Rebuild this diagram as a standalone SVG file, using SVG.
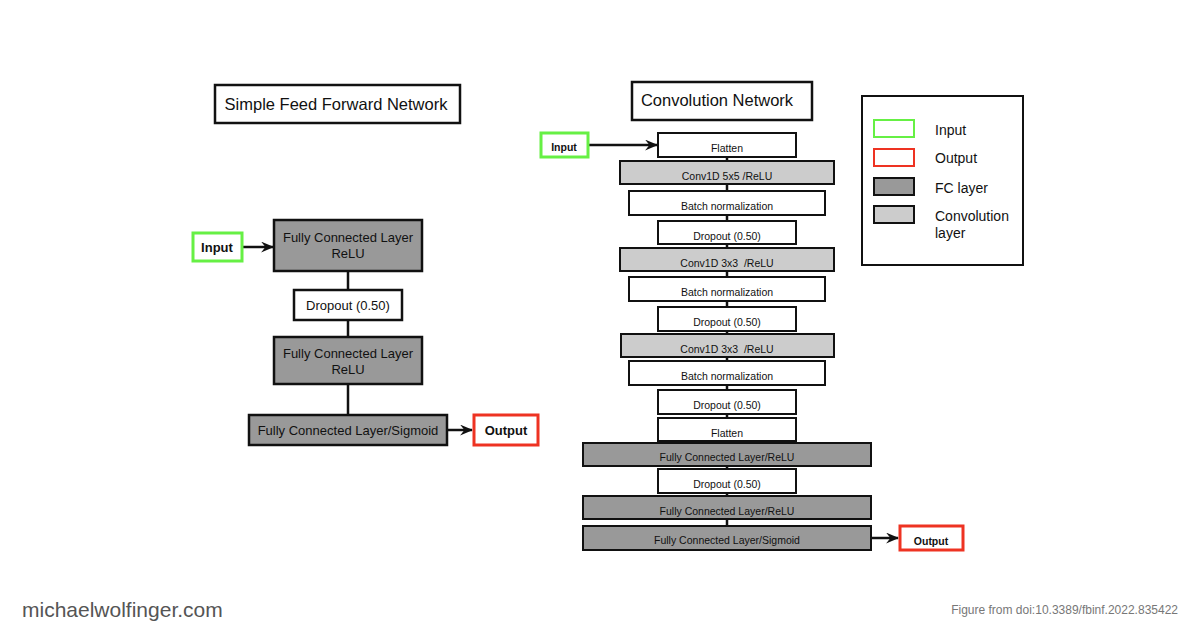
<svg xmlns="http://www.w3.org/2000/svg" width="1200" height="627" viewBox="0 0 1200 627">
<defs>
<style>
text{font-family:"Liberation Sans",Arial,sans-serif;fill:#111;text-anchor:middle}
.box{stroke:#111;stroke-width:2.5}
.rb{stroke:#111;stroke-width:2}
.w{fill:#fff}
.fc{fill:#999}
.cv{fill:#ccc}
.in{fill:#fff;stroke:#66f044;stroke-width:3}
.out{fill:#fff;stroke:#ee3322;stroke-width:3}
.l13{font-size:13px}
.r10{font-size:10.5px}
.b{font-weight:bold}
.lg{font-size:14px;text-anchor:start}
.con{stroke:#111;stroke-width:2.5;fill:none}
</style>
<marker id="ar" viewBox="0 0 12 10" refX="11" refY="5" markerWidth="13" markerHeight="11" markerUnits="userSpaceOnUse" orient="auto">
<path d="M0,0 L12,5 L0,10 L4,5 z" fill="#111"/>
</marker>
</defs>
<rect width="1200" height="627" fill="#fff"/>

<g id="connectors">
<line class="con" x1="243" y1="247" x2="273" y2="247" marker-end="url(#ar)"/>
<line class="con" x1="348" y1="271" x2="348" y2="290"/>
<line class="con" x1="348" y1="320" x2="348" y2="337"/>
<line class="con" x1="348" y1="384" x2="348" y2="415"/>
<line class="con" x1="447" y1="430" x2="472" y2="430" marker-end="url(#ar)"/>
<line class="con" x1="588" y1="145" x2="657" y2="145" marker-end="url(#ar)"/>
<line class="con" x1="727" y1="157" x2="727" y2="526"/>
<line class="con" x1="871" y1="538" x2="898" y2="538" marker-end="url(#ar)"/>
</g>

<g id="title-ff"><rect class="box w" x="215" y="85" width="245" height="38"/><text x="336" y="110" style="font-size:16.5px">Simple Feed Forward Network</text></g>
<g id="ff-input"><rect class="in" x="193" y="233" width="49" height="28"/><text class="l13 b" x="217" y="252">Input</text></g>
<g id="ff-fc1"><rect class="box fc" x="274" y="220" width="148" height="51"/><text class="l13" x="348" y="242">Fully Connected Layer</text><text class="l13" x="348" y="258">ReLU</text></g>
<g id="ff-dropout"><rect class="box w" x="294" y="290" width="108" height="30"/><text class="l13" x="348" y="310">Dropout (0.50)</text></g>
<g id="ff-fc2"><rect class="box fc" x="274" y="337" width="148" height="47"/><text class="l13" x="348" y="358">Fully Connected Layer</text><text class="l13" x="348" y="374">ReLU</text></g>
<g id="ff-fc3"><rect class="box fc" x="249" y="415" width="198" height="30"/><text class="l13" x="348" y="435">Fully Connected Layer/Sigmoid</text></g>
<g id="ff-output"><rect class="out" x="474" y="415" width="64" height="30"/><text class="l13 b" x="506" y="435">Output</text></g>

<g id="title-cn"><rect class="box w" x="632" y="82" width="180" height="38"/><text x="717" y="106" style="font-size:16.5px">Convolution Network</text></g>
<g id="cn-input"><rect class="in" x="541" y="133" width="47" height="24"/><text class="r10 b" x="564" y="151">Input</text></g>
<g id="cn-flatten1"><rect class="rb w" x="658" y="133" width="138" height="24"/><text class="r10" x="727" y="152">Flatten</text></g>
<g id="cn-conv1"><rect class="rb cv" x="620" y="161" width="214" height="23"/><text class="r10" x="727" y="180">Conv1D 5x5 /ReLU</text></g>
<g id="cn-bn1"><rect class="rb w" x="629" y="191" width="196" height="24"/><text class="r10" x="727" y="210">Batch normalization</text></g>
<g id="cn-drop1"><rect class="rb w" x="658" y="221" width="138" height="23"/><text class="r10" x="727" y="240">Dropout (0.50)</text></g>
<g id="cn-conv2"><rect class="rb cv" x="620" y="248" width="214" height="23"/><text class="r10" x="727" y="267" xml:space="preserve">Conv1D 3x3  /ReLU</text></g>
<g id="cn-bn2"><rect class="rb w" x="629" y="277" width="196" height="24"/><text class="r10" x="727" y="296">Batch normalization</text></g>
<g id="cn-drop2"><rect class="rb w" x="658" y="307" width="138" height="24"/><text class="r10" x="727" y="326">Dropout (0.50)</text></g>
<g id="cn-conv3"><rect class="rb cv" x="621" y="334" width="213" height="23"/><text class="r10" x="727" y="353" xml:space="preserve">Conv1D 3x3  /ReLU</text></g>
<g id="cn-bn3"><rect class="rb w" x="629" y="361" width="196" height="24"/><text class="r10" x="727" y="380">Batch normalization</text></g>
<g id="cn-drop3"><rect class="rb w" x="658" y="390" width="138" height="24"/><text class="r10" x="727" y="409">Dropout (0.50)</text></g>
<g id="cn-flatten2"><rect class="rb w" x="658" y="418" width="138" height="23"/><text class="r10" x="727" y="437">Flatten</text></g>
<g id="cn-fc1"><rect class="rb fc" x="583" y="443" width="288" height="23"/><text class="r10" x="727" y="461">Fully Connected Layer/ReLU</text></g>
<g id="cn-drop4"><rect class="rb w" x="658" y="469" width="138" height="24"/><text class="r10" x="727" y="488">Dropout (0.50)</text></g>
<g id="cn-fc2"><rect class="rb fc" x="583" y="496" width="288" height="23"/><text class="r10" x="727" y="515">Fully Connected Layer/ReLU</text></g>
<g id="cn-fc3"><rect class="rb fc" x="583" y="526" width="288" height="24"/><text class="r10" x="727" y="544">Fully Connected Layer/Sigmoid</text></g>
<g id="cn-output"><rect class="out" x="900" y="526" width="63" height="24"/><text class="r10 b" x="931" y="545">Output</text></g>

<g id="legend">
<rect class="rb w" x="862" y="96" width="161" height="169"/>
<rect x="874" y="120" width="40" height="17" fill="#fff" stroke="#66f044" stroke-width="2"/>
<rect x="874" y="149" width="40" height="17" fill="#fff" stroke="#ee3322" stroke-width="2"/>
<rect x="874" y="178" width="40" height="17" class="fc" stroke="#111" stroke-width="2"/>
<rect x="874" y="206" width="40" height="17" class="cv" stroke="#111" stroke-width="2"/>
<text class="lg" x="935" y="135">Input</text>
<text class="lg" x="935" y="163">Output</text>
<text class="lg" x="935" y="193">FC layer</text>
<text class="lg" x="935" y="221">Convolution</text>
<text class="lg" x="935" y="238">layer</text>
</g>

<text x="22" y="617" style="font-size:21px;text-anchor:start;fill:#555">michaelwolfinger.com</text>
<text x="1178" y="614" style="font-size:12px;text-anchor:end;fill:#777">Figure from doi:10.3389/fbinf.2022.835422</text>
</svg>
